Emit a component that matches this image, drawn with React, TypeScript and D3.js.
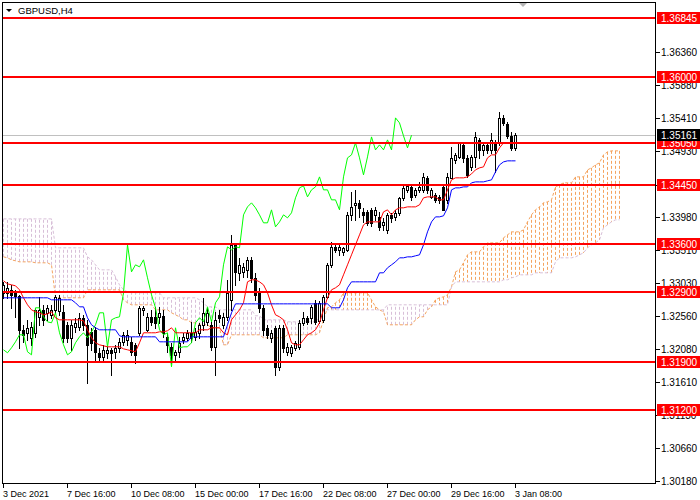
import * as d3 from "d3";

// GBPUSD H4 candles (bar 0 = 3 Dec 2021 00:00)
const opens = [
  1.32891, 1.32891, 1.32934, 1.32891, 1.32848, 1.32358, 1.32315, 1.32243, 1.32315, 1.32545,
  1.32646, 1.32603, 1.32574, 1.32646, 1.32632, 1.32617, 1.3243, 1.32243, 1.32401, 1.32401,
  1.32531, 1.3243, 1.32329, 1.32358, 1.32027, 1.31969, 1.32027, 1.3207, 1.32041, 1.32099,
  1.32185, 1.32214, 1.32185, 1.32142, 1.32315, 1.32646, 1.32358, 1.32545, 1.32545, 1.32545,
  1.3256, 1.32257, 1.32113, 1.31998, 1.32041, 1.32214, 1.32243, 1.32315, 1.32257, 1.32315,
  1.3243, 1.32473, 1.3243, 1.32113, 1.32574, 1.3243, 1.32545, 1.3279, 1.33582, 1.33179,
  1.33193, 1.33222, 1.33366, 1.33107, 1.32891, 1.32675, 1.32387, 1.32243, 1.32387, 1.31825,
  1.32387, 1.32041, 1.32027, 1.32099, 1.32113, 1.32459, 1.32531, 1.32531, 1.32747, 1.32488,
  1.32502, 1.32833, 1.33294, 1.33553, 1.3351, 1.33481, 1.3351, 1.34014, 1.34158, 1.34187,
  1.34057, 1.34057, 1.34086, 1.34014, 1.33985, 1.3387, 1.33798, 1.34014, 1.33985, 1.34043,
  1.34259, 1.34374, 1.34417, 1.34302, 1.34374, 1.34374, 1.34547, 1.34273, 1.34302, 1.34273,
  1.34417, 1.3423, 1.34547, 1.34806, 1.34849, 1.35022, 1.34835, 1.34705, 1.34849, 1.35094,
  1.3495, 1.35022, 1.3495, 1.35065, 1.35051, 1.35411, 1.35324, 1.35152, 1.34979,
];
const highs = [
  1.33049, 1.33049, 1.33006, 1.32934, 1.32862, 1.3243, 1.32502, 1.32473, 1.32675, 1.32833,
  1.32718, 1.32718, 1.32718, 1.32862, 1.32862, 1.32718, 1.32473, 1.32502, 1.32531, 1.32603,
  1.32574, 1.32502, 1.32387, 1.32401, 1.32099, 1.32142, 1.32113, 1.32099, 1.32142, 1.32243,
  1.32329, 1.32358, 1.32257, 1.32171, 1.32704, 1.32704, 1.32603, 1.32646, 1.32689, 1.32689,
  1.32646, 1.32315, 1.32171, 1.3207, 1.32257, 1.32315, 1.32358, 1.32473, 1.32387, 1.32459,
  1.32819, 1.32675, 1.32502, 1.32617, 1.32646, 1.32603, 1.33078, 1.33726, 1.33611, 1.33395,
  1.33323, 1.33409, 1.33409, 1.33179, 1.32963, 1.32718, 1.3243, 1.32358, 1.32416, 1.3243,
  1.3243, 1.32171, 1.32142, 1.322, 1.32502, 1.32617, 1.3256, 1.32718, 1.3279, 1.32776,
  1.32862, 1.33323, 1.33625, 1.33611, 1.33582, 1.33553, 1.34057, 1.34345, 1.34374, 1.3423,
  1.34115, 1.34086, 1.34115, 1.34129, 1.34057, 1.33971, 1.34043, 1.34043, 1.34086, 1.34273,
  1.34432, 1.3446, 1.34446, 1.34403, 1.34489, 1.34619, 1.34576, 1.34403, 1.34331, 1.34302,
  1.34446, 1.34619, 1.34993, 1.34907, 1.35051, 1.35051, 1.34878, 1.34878, 1.35209, 1.35123,
  1.35065, 1.35065, 1.35195, 1.35094, 1.35497, 1.35454, 1.35353, 1.35209, 1.35195,
];
const lows = [
  1.32819, 1.32819, 1.32675, 1.32545, 1.32099, 1.32185, 1.32214, 1.32142, 1.32257, 1.3243,
  1.3243, 1.32502, 1.32531, 1.32603, 1.32574, 1.32185, 1.32185, 1.3207, 1.32329, 1.32358,
  1.32358, 1.31595, 1.3207, 1.31897, 1.31897, 1.31897, 1.31955, 1.3171, 1.31955, 1.32041,
  1.32142, 1.32142, 1.31998, 1.31883, 1.32286, 1.32574, 1.32344, 1.3243, 1.32387, 1.32459,
  1.32257, 1.32041, 1.31883, 1.31926, 1.31969, 1.32171, 1.32214, 1.32185, 1.32214, 1.32243,
  1.32358, 1.3243, 1.3207, 1.3171, 1.32473, 1.32387, 1.32502, 1.32646, 1.33006, 1.33078,
  1.33121, 1.33121, 1.33049, 1.3279, 1.32617, 1.32286, 1.32243, 1.32185, 1.3171, 1.31782,
  1.32041, 1.31998, 1.31984, 1.3207, 1.32084, 1.3243, 1.32444, 1.32459, 1.32444, 1.32459,
  1.32473, 1.32819, 1.33265, 1.33481, 1.33438, 1.33438, 1.33496, 1.33942, 1.33942, 1.33985,
  1.33913, 1.3387, 1.33856, 1.33942, 1.33798, 1.33798, 1.33755, 1.33913, 1.33942, 1.34014,
  1.3423, 1.34345, 1.3423, 1.34273, 1.34345, 1.34345, 1.34331, 1.34259, 1.34201, 1.34187,
  1.34086, 1.34187, 1.34547, 1.34763, 1.34835, 1.34777, 1.34561, 1.34662, 1.34705, 1.34835,
  1.34878, 1.34907, 1.34907, 1.34633, 1.35022, 1.3531, 1.35123, 1.3495, 1.3495,
];
const closes = [
  1.33006, 1.32963, 1.32862, 1.32848, 1.32358, 1.32286, 1.32387, 1.32401, 1.32646, 1.32646,
  1.32502, 1.32675, 1.32646, 1.32833, 1.32819, 1.32243, 1.32243, 1.3243, 1.32459, 1.32531,
  1.3243, 1.32142, 1.32171, 1.32041, 1.31969, 1.3207, 1.3207, 1.32027, 1.32099, 1.32185,
  1.32286, 1.32286, 1.32041, 1.31998, 1.32675, 1.32675, 1.32545, 1.32473, 1.32459, 1.32603,
  1.32315, 1.32142, 1.31998, 1.32041, 1.32171, 1.32257, 1.32315, 1.32243, 1.32329, 1.3243,
  1.32603, 1.32603, 1.32113, 1.32502, 1.32531, 1.32545, 1.32891, 1.33582, 1.33193, 1.33294,
  1.33265, 1.33366, 1.33107, 1.32862, 1.32675, 1.32358, 1.32286, 1.32315, 1.31825, 1.32387,
  1.32099, 1.32113, 1.32113, 1.32171, 1.32459, 1.32531, 1.32473, 1.32689, 1.32473, 1.32747,
  1.32833, 1.33294, 1.33553, 1.3351, 1.33553, 1.33539, 1.34014, 1.34129, 1.34187, 1.34115,
  1.34014, 1.33899, 1.33899, 1.34086, 1.33841, 1.33913, 1.34014, 1.33971, 1.34043, 1.34259,
  1.34403, 1.34432, 1.34273, 1.34374, 1.34417, 1.34561, 1.34374, 1.34374, 1.3423, 1.3423,
  1.34086, 1.34561, 1.34835, 1.34878, 1.35051, 1.34835, 1.3459, 1.34849, 1.35137, 1.3495,
  1.35022, 1.3495, 1.35094, 1.3495, 1.35411, 1.35339, 1.35152, 1.34979, 1.35161,
];

// Ichimoku lines as drawn on the chart
const tenkan = [
  1.33064, 1.3302, 1.33006, 1.32992, 1.32934, 1.32819, 1.32718, 1.32646, 1.32617, 1.32603,
  1.32574, 1.32588, 1.32617, 1.32531, 1.32502, 1.32502, 1.32502, 1.32502, 1.32502, 1.32502,
  1.32488, 1.32358, 1.32243, 1.32171, 1.32142, 1.32128, 1.32113, 1.32113, 1.32113, 1.32113,
  1.32084, 1.3207, 1.32056, 1.32041, 1.32171, 1.32315, 1.32315, 1.32315, 1.32315, 1.32329,
  1.32329, 1.32344, 1.32387, 1.32315, 1.32315, 1.32315, 1.32315, 1.32315, 1.32315, 1.32358,
  1.32358, 1.32358, 1.32387, 1.32387, 1.32387, 1.32315, 1.32286, 1.32502, 1.32574, 1.32646,
  1.32747, 1.33049, 1.33078, 1.33078, 1.33049, 1.33006, 1.32891, 1.32718, 1.32574, 1.32545,
  1.32502, 1.32358, 1.32171, 1.32142, 1.32142, 1.32214, 1.32286, 1.32315, 1.32358, 1.32459,
  1.32646, 1.32819, 1.32934, 1.32963, 1.33006, 1.3315, 1.33294, 1.33438, 1.33582, 1.33726,
  1.3387, 1.33913, 1.33913, 1.33913, 1.33913, 1.34057, 1.34086, 1.34014, 1.34086, 1.34115,
  1.34115, 1.34129, 1.34129, 1.34129, 1.34158, 1.34259, 1.34273, 1.34273, 1.34273, 1.3423,
  1.3423, 1.34374, 1.34518, 1.34547, 1.34547, 1.34547, 1.34561, 1.34604, 1.34662, 1.34691,
  1.34705, 1.34835, 1.34878, 1.34878, 1.34979, 1.35051, 1.35051, 1.35051, 1.35051,
];
const kijun = [
  1.32819, 1.32819, 1.32819, 1.32819, 1.32819, 1.32819, 1.32819, 1.32819, 1.32819, 1.32819,
  1.32819, 1.32819, 1.3279, 1.3279, 1.3279, 1.3279, 1.3279, 1.3279, 1.32747, 1.32689,
  1.32689, 1.32531, 1.3243, 1.32387, 1.32358, 1.32358, 1.32358, 1.32358, 1.32358, 1.32272,
  1.32257, 1.32257, 1.32257, 1.32257, 1.32257, 1.32257, 1.32257, 1.32257, 1.32257, 1.32185,
  1.32185, 1.32185, 1.32185, 1.32185, 1.32185, 1.32185, 1.32185, 1.32257, 1.32257, 1.32257,
  1.32257, 1.32257, 1.32257, 1.32257, 1.32257, 1.32257, 1.3243, 1.32603, 1.32732, 1.32732,
  1.32732, 1.32732, 1.32732, 1.32732, 1.32732, 1.32732, 1.32732, 1.32732, 1.32732, 1.32732,
  1.32732, 1.32732, 1.32732, 1.32732, 1.32732, 1.32732, 1.32732, 1.32732, 1.32732, 1.32732,
  1.32732, 1.32732, 1.32675, 1.32675, 1.32675, 1.3279, 1.32963, 1.33049, 1.33049, 1.33049,
  1.33049, 1.33049, 1.33049, 1.33049, 1.33179, 1.33179, 1.33251, 1.33294, 1.33337, 1.33395,
  1.33395, 1.33409, 1.33409, 1.33424, 1.33438, 1.33582, 1.33769, 1.33913, 1.33985, 1.33985,
  1.34, 1.34115, 1.34374, 1.34403, 1.34403, 1.34417, 1.34417, 1.34475, 1.34489, 1.34489,
  1.34489, 1.34504, 1.34518, 1.34633, 1.34734, 1.34777, 1.34792, 1.34792, 1.34792,
];
// Senkou spans, 155 bars (26 past the last candle)
const spanA = [
  1.33409, 1.33395, 1.33366, 1.33352, 1.33337, 1.33337, 1.33337, 1.33337, 1.33323, 1.33323,
  1.33323, 1.33323, 1.33294, 1.32819, 1.32819, 1.32819, 1.32819, 1.32819, 1.32819, 1.32819,
  1.32819, 1.32934, 1.32934, 1.32934, 1.32934, 1.32934, 1.32934, 1.32934, 1.32934, 1.32934,
  1.3279, 1.32747, 1.32718, 1.32718, 1.32718, 1.32718, 1.32718, 1.32718, 1.32646, 1.32646,
  1.32646, 1.32646, 1.32603, 1.32574, 1.32545, 1.32502, 1.32502, 1.32459, 1.32459, 1.3243,
  1.3243, 1.3243, 1.32387, 1.32387, 1.32387, 1.32142, 1.32142, 1.32286, 1.32286, 1.32286,
  1.32286, 1.32286, 1.32286, 1.32286, 1.32286, 1.32243, 1.32243, 1.32243, 1.32243, 1.32243,
  1.32243, 1.32286, 1.32286, 1.32286, 1.32286, 1.32286, 1.32286, 1.32286, 1.32286, 1.32315,
  1.32502, 1.32675, 1.32689, 1.32747, 1.3279, 1.32891, 1.32891, 1.32891, 1.32891, 1.32891,
  1.32891, 1.32891, 1.3279, 1.32689, 1.32646, 1.32617, 1.3243, 1.3243, 1.3243, 1.3243,
  1.3243, 1.3243, 1.3243, 1.32502, 1.32545, 1.32545, 1.32646, 1.32689, 1.3279, 1.32819,
  1.32833, 1.32862, 1.32977, 1.33193, 1.33222, 1.33323, 1.33438, 1.33481, 1.33481, 1.33481,
  1.33553, 1.33611, 1.33611, 1.33611, 1.33611, 1.33683, 1.33726, 1.33769, 1.33769, 1.33769,
  1.33798, 1.33913, 1.34014, 1.34086, 1.34129, 1.34187, 1.34201, 1.3423, 1.34417, 1.34446,
  1.34475, 1.34475, 1.34475, 1.34561, 1.34561, 1.34561, 1.34662, 1.34691, 1.34734, 1.34763,
  1.34878, 1.34921, 1.34936, 1.34936, 1.34936,
];
const spanB = [
  1.33956, 1.33956, 1.33956, 1.33956, 1.33956, 1.33956, 1.33956, 1.33956, 1.33956, 1.33956,
  1.33956, 1.33956, 1.33956, 1.33539, 1.33539, 1.33539, 1.33539, 1.33539, 1.33539, 1.33539,
  1.33539, 1.33409, 1.33366, 1.33294, 1.33222, 1.33222, 1.33222, 1.33222, 1.33121, 1.33006,
  1.32934, 1.32905, 1.32891, 1.32891, 1.32891, 1.32891, 1.32891, 1.32891, 1.32891, 1.32891,
  1.32819, 1.32819, 1.32819, 1.32819, 1.32819, 1.32819, 1.32819, 1.32819, 1.32819, 1.3279,
  1.32747, 1.32689, 1.32689, 1.32689, 1.32646, 1.32646, 1.32646, 1.32646, 1.32646, 1.32646,
  1.32646, 1.32646, 1.32646, 1.3256, 1.3256, 1.32502, 1.32502, 1.32502, 1.32502, 1.32502,
  1.32502, 1.32473, 1.32473, 1.32473, 1.32473, 1.32473, 1.32473, 1.32473, 1.32473, 1.32531,
  1.32646, 1.32646, 1.32646, 1.32646, 1.32646, 1.32646, 1.32646, 1.32646, 1.32646, 1.32646,
  1.32646, 1.32646, 1.32646, 1.32646, 1.32646, 1.32646, 1.32718, 1.32718, 1.32718, 1.32718,
  1.32718, 1.32718, 1.32718, 1.32718, 1.32718, 1.32718, 1.32718, 1.32718, 1.32718, 1.32718,
  1.32718, 1.32718, 1.32977, 1.33049, 1.33049, 1.33049, 1.33049, 1.33049, 1.33049, 1.33049,
  1.33049, 1.33049, 1.33049, 1.33049, 1.33049, 1.33078, 1.33078, 1.33107, 1.33121, 1.3315,
  1.3315, 1.3315, 1.3315, 1.33179, 1.33179, 1.33179, 1.33179, 1.33179, 1.33337, 1.33395,
  1.33395, 1.33395, 1.33395, 1.33409, 1.33438, 1.33467, 1.33539, 1.33582, 1.33611, 1.33654,
  1.33827, 1.3387, 1.33913, 1.33942, 1.33942,
];
const chikouShift = 26;

const levels = [1.36845, 1.36, 1.3505, 1.3445, 1.336, 1.329, 1.319, 1.312];
const bid = 1.35161;
const priceTicks = [1.3636, 1.3588, 1.3541, 1.3493, 1.3445, 1.3398, 1.3351, 1.3303, 1.3256, 1.3208, 1.3161, 1.3113, 1.3066, 1.3018];
const timeBars = [0, 16, 32, 48, 64, 80, 96, 112, 128];
const timeLabels = ["3 Dec 2021", "7 Dec 16:00", "10 Dec 08:00", "15 Dec 00:00", "17 Dec 16:00", "22 Dec 08:00", "27 Dec 00:00", "29 Dec 16:00", "3 Jan 08:00"];

const FONT = "'Liberation Sans', Arial, sans-serif";
const plot = { left: 2, top: 2, right: 655, bottom: 483 };

export default function App() {
  const x = d3.scaleLinear().domain([0, 16]).range([3.5, 67.5]);
  const y = d3.scaleLinear().domain([1.3018, 1.3636]).range([481, 52]);
  const py = (v: number) => Math.round(y(v)) + 0.5;
  const line = d3.line<number>().x((_, i) => x(i)).y((v) => y(v));
  const chikou = closes.slice(chikouShift);

  return (
    <div style={{ position: "fixed", left: 0, top: 0, width: 700, height: 500, background: "#fff" }}>
      <svg width={700} height={500} viewBox="0 0 700 500" style={{ display: "block" }} fontFamily={FONT}>
        <defs>
          <clipPath id="plotClip">
            <rect x={plot.left + 1} y={plot.top + 1} width={plot.right - plot.left - 1} height={plot.bottom - plot.top - 1} />
          </clipPath>
        </defs>
        <rect width={700} height={500} fill="#fff" />
        <g clipPath="url(#plotClip)">
          {/* kumo hatch */}
          {spanA.map((a, i) => (
            <line key={`h${i}`} x1={x(i)} x2={x(i)} y1={y(a)} y2={y(spanB[i])}
              stroke={a >= spanB[i] ? "#f4a460" : "#d8bfd8"} strokeWidth={1} strokeDasharray="3,2" />
          ))}
          <path d={line(spanA) ?? ""} fill="none" stroke="#f4a460" strokeWidth={1} strokeDasharray="3,2" />
          <path d={line(spanB) ?? ""} fill="none" stroke="#d8bfd8" strokeWidth={1} strokeDasharray="3,2" />
          <line x1={plot.left} x2={plot.right} y1={py(bid)} y2={py(bid)} stroke="#c0c0c0" />
          {/* candles */}
          {opens.map((o, i) => {
            const c = closes[i];
            const cx = x(i);
            const top = Math.round(y(Math.max(o, c)));
            const bot = Math.round(y(Math.min(o, c)));
            const bull = c > o;
            return (
              <g key={`c${i}`}>
                <line x1={cx} x2={cx} y1={Math.round(y(highs[i]))} y2={Math.round(y(lows[i])) + 1} stroke="#000" />
                {bull ? (
                  <rect x={cx - 1} y={top + 0.5} width={2} height={Math.max(bot - top, 1)} fill="#fff" stroke="#000" />
                ) : (
                  <rect x={cx - 1.5} y={top} width={3} height={Math.max(bot - top + 1, 1)} fill="#000" />
                )}
              </g>
            );
          })}
          <path d={line(chikou) ?? ""} fill="none" stroke="#00ff00" strokeWidth={1} />
          <path d={line(tenkan) ?? ""} fill="none" stroke="#ff0000" strokeWidth={1} />
          <path d={line(kijun) ?? ""} fill="none" stroke="#0000ff" strokeWidth={1} />
          {levels.map((lv) => (
            <line key={`l${lv}`} x1={plot.left} x2={plot.right} y1={Math.round(y(lv))} y2={Math.round(y(lv))} stroke="#ff0000" strokeWidth={2} />
          ))}
        </g>
        {/* frame */}
        <rect x={plot.left + 0.5} y={plot.top + 0.5} width={plot.right - plot.left} height={plot.bottom - plot.top} fill="none" stroke="#000" />
        <path d="M6,9 L12,9 L9,12 Z" fill="#000" />
        <text x={18} y={14} fontSize={9.5} fill="#000">GBPUSD,H4</text>
        <path d="M519,3 L527,3 L523,7 Z" fill="#b4b4b4" />
        {/* price axis */}
        {priceTicks.map((t) => (
          <g key={`t${t}`}>
            <line x1={plot.right + 1} x2={plot.right + 5} y1={py(t)} y2={py(t)} stroke="#000" />
            <text x={661} y={py(t) + 3.5} fontSize={10} fill="#000">{t.toFixed(5)}</text>
          </g>
        ))}
        {levels.map((lv) => (
          <g key={`lb${lv}`}>
            <rect x={657} y={Math.round(y(lv)) - 6} width={43} height={12} fill="#ff0000" />
            <text x={661} y={Math.round(y(lv)) + 3.5} fontSize={10} fill="#fff">{lv.toFixed(5)}</text>
          </g>
        ))}
        <rect x={657} y={py(bid) - 6.5} width={43} height={12} fill="#000" />
        <text x={661} y={py(bid) + 3} fontSize={10} fill="#fff">{bid.toFixed(5)}</text>
        {/* time axis */}
        {timeBars.map((b, i) => (
          <g key={`x${b}`}>
            <line x1={x(b)} x2={x(b)} y1={plot.bottom + 1} y2={plot.bottom + 5} stroke="#000" />
            <text x={x(b) - 0.5} y={497} fontSize={9} fill="#000">{timeLabels[i]}</text>
          </g>
        ))}
      </svg>
    </div>
  );
}
